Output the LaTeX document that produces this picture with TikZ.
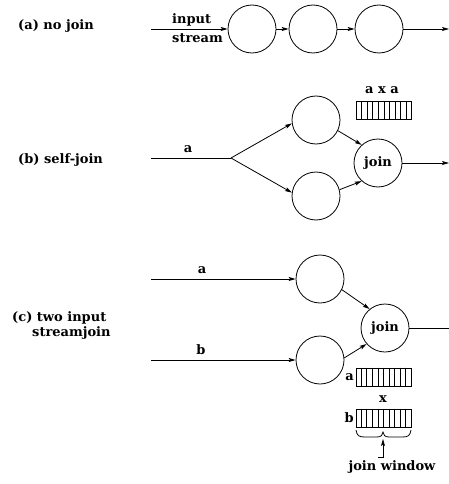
\documentclass[tikz,border=0pt]{standalone}
\usepackage{fontspec}
\setmainfont{DejaVu Serif}
\usetikzlibrary{arrows.meta,calc}
\begin{document}
\begin{tikzpicture}[x=1pt,y=-1pt,
  every node/.style={inner sep=0pt,font=\fontsize{13}{15}\selectfont\bfseries},
  op/.style={draw,circle,minimum size=48pt,line width=0.8pt},
  wire/.style={line width=0.8pt},
  flow/.style={wire,-{Stealth[length=7pt,width=4pt,inset=1.5pt]}},
  buf/.style={draw,rectangle,minimum width=55pt,minimum height=18pt,line width=0.8pt},
  slotline/.style={line width=0.7pt}]
\useasboundingbox (0,0) rectangle (449,484);

% ---------- (a) a plain chain of operators ----------
\node[anchor=west] (ta) at (18,26) {(a) no join};
\node[anchor=west] (tin) at (172,20) {input};
\node[anchor=west] (tst) at (172,38) {stream};
\coordinate (ain) at (151,29);
\node[op] (a1) at (252,29) {};
\node[op] (a2) at (313,29) {};
\node[op] (a3) at (379,29) {};
\coordinate (aout) at (449,29);
\draw[flow] (ain) -- (a1.west);
\draw[flow] (a1) -- (a2);
\draw[flow] (a2) -- (a3);
\draw[flow] (a3.east) -- (aout);

% ---------- (b) self-join ----------
\node[anchor=west] (tb) at (18,160) {(b) self-join};
\coordinate (bin) at (151,158);
\coordinate (bsplit) at (231,158);
\node (bla) at (188,149) {a};
\node[op] (bu) at (316,120) {};
\node[op] (bl) at (316,196) {};
\node[op] (bj) at (378,163) {join};
\coordinate (bout) at (449,163);
\draw[wire] (bin) -- (bsplit);
\draw[flow] (bsplit) -- (bu.188);
\draw[flow] (bsplit) -- (bl.172);
\draw[flow] (bu.334) -- (bj.132);
\draw[flow] (bl.15) -- (bj.228);
\draw[flow] (bj.east) -- (bout);
\node[buf] (bq) at (384,110.5) {};
\foreach \i in {1,...,9}
  \draw[slotline] ($(bq.north west)!\i/10!(bq.north east)$) -- ($(bq.south west)!\i/10!(bq.south east)$);
\node (bqt) at (382,90) {a x a};

% ---------- (c) two input stream join ----------
\node[anchor=west] (tc1) at (12,318) {(c) two input};
\node[anchor=west] (tc2) at (32,333) {streamjoin};
\coordinate (cina) at (151,279);
\coordinate (cinb) at (151,360);
\node (cla) at (202,270) {a};
\node (clb) at (201,350) {b};
\node[op] (cu) at (320,279) {};
\node[op] (cl) at (320,360) {};
\node[op] (cj) at (385,328) {join};
\coordinate (cout) at (449,328);
\draw[flow] (cina) -- (cu.west);
\draw[flow] (cinb) -- (cl.west);
\draw[flow] (cu.334) -- (cj.129);
\draw[flow] (cl.5) -- (cj.221);
\draw[wire] (cj.east) -- (cout);

% join window buffers
\node[buf] (wa) at (383.5,377) {};
\node[buf] (wb) at (383.5,418) {};
\foreach \q in {wa,wb}
  \foreach \i in {1,...,9}
    \draw[slotline] ($(\q.north west)!\i/10!(\q.north east)$) -- ($(\q.south west)!\i/10!(\q.south east)$);
\node[anchor=east] (wla) at (354,377) {a};
\node[anchor=east] (wlb) at (354,418) {b};
\node (wx) at (383,399) {x};

% brace under the window and its caption
\draw[wire] (356,430) .. controls (357,436) and (359,437) .. (365,437) -- (377,437)
  .. controls (381,437) and (383,435) .. (383,432)
  .. controls (383,435) and (385,437) .. (389,437) -- (402,437)
  .. controls (408,437) and (410,436) .. (411,430);
\coordinate (wtip) at (383,439);
\coordinate (whook) at (378,457);
\node (wcap) at (392,467) {join window};
\draw[flow] (whook) -- (383,457) -- (wtip);
\end{tikzpicture}
\end{document}
